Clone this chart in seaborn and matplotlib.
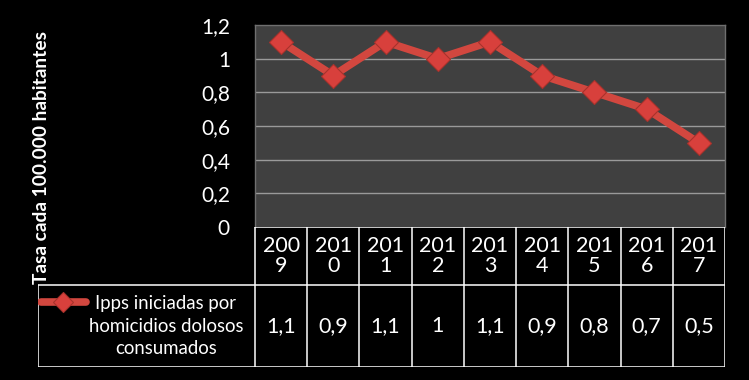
import matplotlib
matplotlib.use("Agg")
import matplotlib.pyplot as plt
import seaborn as sns
import pandas as pd

# ---- data ----
years = ["2009", "2010", "2011", "2012", "2013", "2014", "2015", "2016", "2017"]
values = [1.1, 0.9, 1.1, 1.0, 1.1, 0.9, 0.8, 0.7, 0.5]
series_label = "Ipps iniciadas por\nhomicidios dolosos\nconsumados"
y_label = "Tasa cada 100.000 habitantes"
y_ticks = [0, 0.2, 0.4, 0.6, 0.8, 1.0, 1.2]

sns.set_theme(style="dark")
plt.rcParams["font.family"] = ["Lato", "DejaVu Sans"]

W, H = 749, 380
fig = plt.figure(figsize=(W / 100, H / 100), dpi=100, facecolor="black")

def fx(px):
    return px / W

def fy(py):
    return 1 - py / H

RED = "#D2473F"
EDGE = "#A8322C"

# main plot area
L, R, T, B = 255, 725, 25, 227
ax = fig.add_axes([fx(L), fy(B), fx(R - L), (B - T) / H])
ax.set_facecolor("#404040")

df = pd.DataFrame({"year": years, "value": values})
sns.lineplot(data=df, x="year", y="value", ax=ax, color=RED, lw=5.5,
             marker="D", markersize=12.5, markerfacecolor="#D8403C",
             markeredgecolor=EDGE, markeredgewidth=0.8, zorder=5)

ax.set_xlim(-0.5, len(years) - 0.5)
ax.set_ylim(0, 1.2)
ax.set_yticks(y_ticks)
ax.set_yticklabels([f"{v:g}".replace(".", ",") for v in y_ticks],
                   color="white", fontsize=15)
ax.tick_params(axis="y", length=0, pad=18)
ax.set_xticks([])
ax.set_xlabel("")
ax.set_ylabel("")
ax.grid(False)
for v in y_ticks[1:-1]:
    ax.axhline(v, color="#9a9a9a", lw=1, zorder=1)
for s in ["left", "top", "right"]:
    ax.spines[s].set_color("#6f6f6f")
    ax.spines[s].set_linewidth(1)
ax.spines["bottom"].set_visible(False)

fig.text(fx(42), fy(157), y_label, rotation=90, color="white",
         fontsize=13.8, fontweight="bold", ha="center", va="center")

# data table
TL, TB = 38, 367
unit = (R - L) / len(years)
x_left = -0.5 - (L - TL) / unit
tax = fig.add_axes([fx(TL), fy(TB), fx(R - TL), (TB - B) / H])
tax.set_xlim(x_left, len(years) - 0.5)
tax.set_ylim(0, TB - B)
tax.axis("off")
tax.patch.set_alpha(0)
mid = TB - 285  # data row top in table units
top = TB - B
lw = 1.1
xs_edges = [i - 0.5 for i in range(len(years) + 1)]
tax.plot([-0.5, len(years) - 0.5], [top, top], color="white", lw=lw)
tax.plot([x_left, len(years) - 0.5], [mid, mid], color="white", lw=lw)
tax.plot([x_left, len(years) - 0.5], [0, 0], color="white", lw=lw)
for xe in xs_edges:
    tax.plot([xe, xe], [0, top], color="white", lw=lw)
tax.plot([x_left, x_left], [0, mid], color="white", lw=lw)

for i, (yr, v) in enumerate(zip(years, values)):
    tax.text(i, (top + mid) / 2, f"{yr[:3]}\n{yr[3:]}", color="white",
             fontsize=15.5, ha="center", va="center", linespacing=1.05)
    tax.text(i, mid / 2, f"{v:g}".replace(".", ","), color="white",
             fontsize=15.5, ha="center", va="center")

# legend key + row label
lab_x = -0.5 - (L - 166) / unit
tax.text(lab_x, mid / 2, series_label, color="white", fontsize=13.4,
         ha="center", va="center", multialignment="center", linespacing=1.4)
k0 = -0.5 - (L - 41) / unit
k1 = -0.5 - (L - 86) / unit
ky = TB - 302
tax.plot([k0, k1], [ky, ky], color=RED, lw=5.5, solid_capstyle="round")
tax.plot([(k0 + k1) / 2], [ky], marker="D", markersize=10, color="#D8403C",
         markeredgecolor=EDGE, markeredgewidth=0.8)

fig.savefig("out.png", dpi=100, facecolor="black")
